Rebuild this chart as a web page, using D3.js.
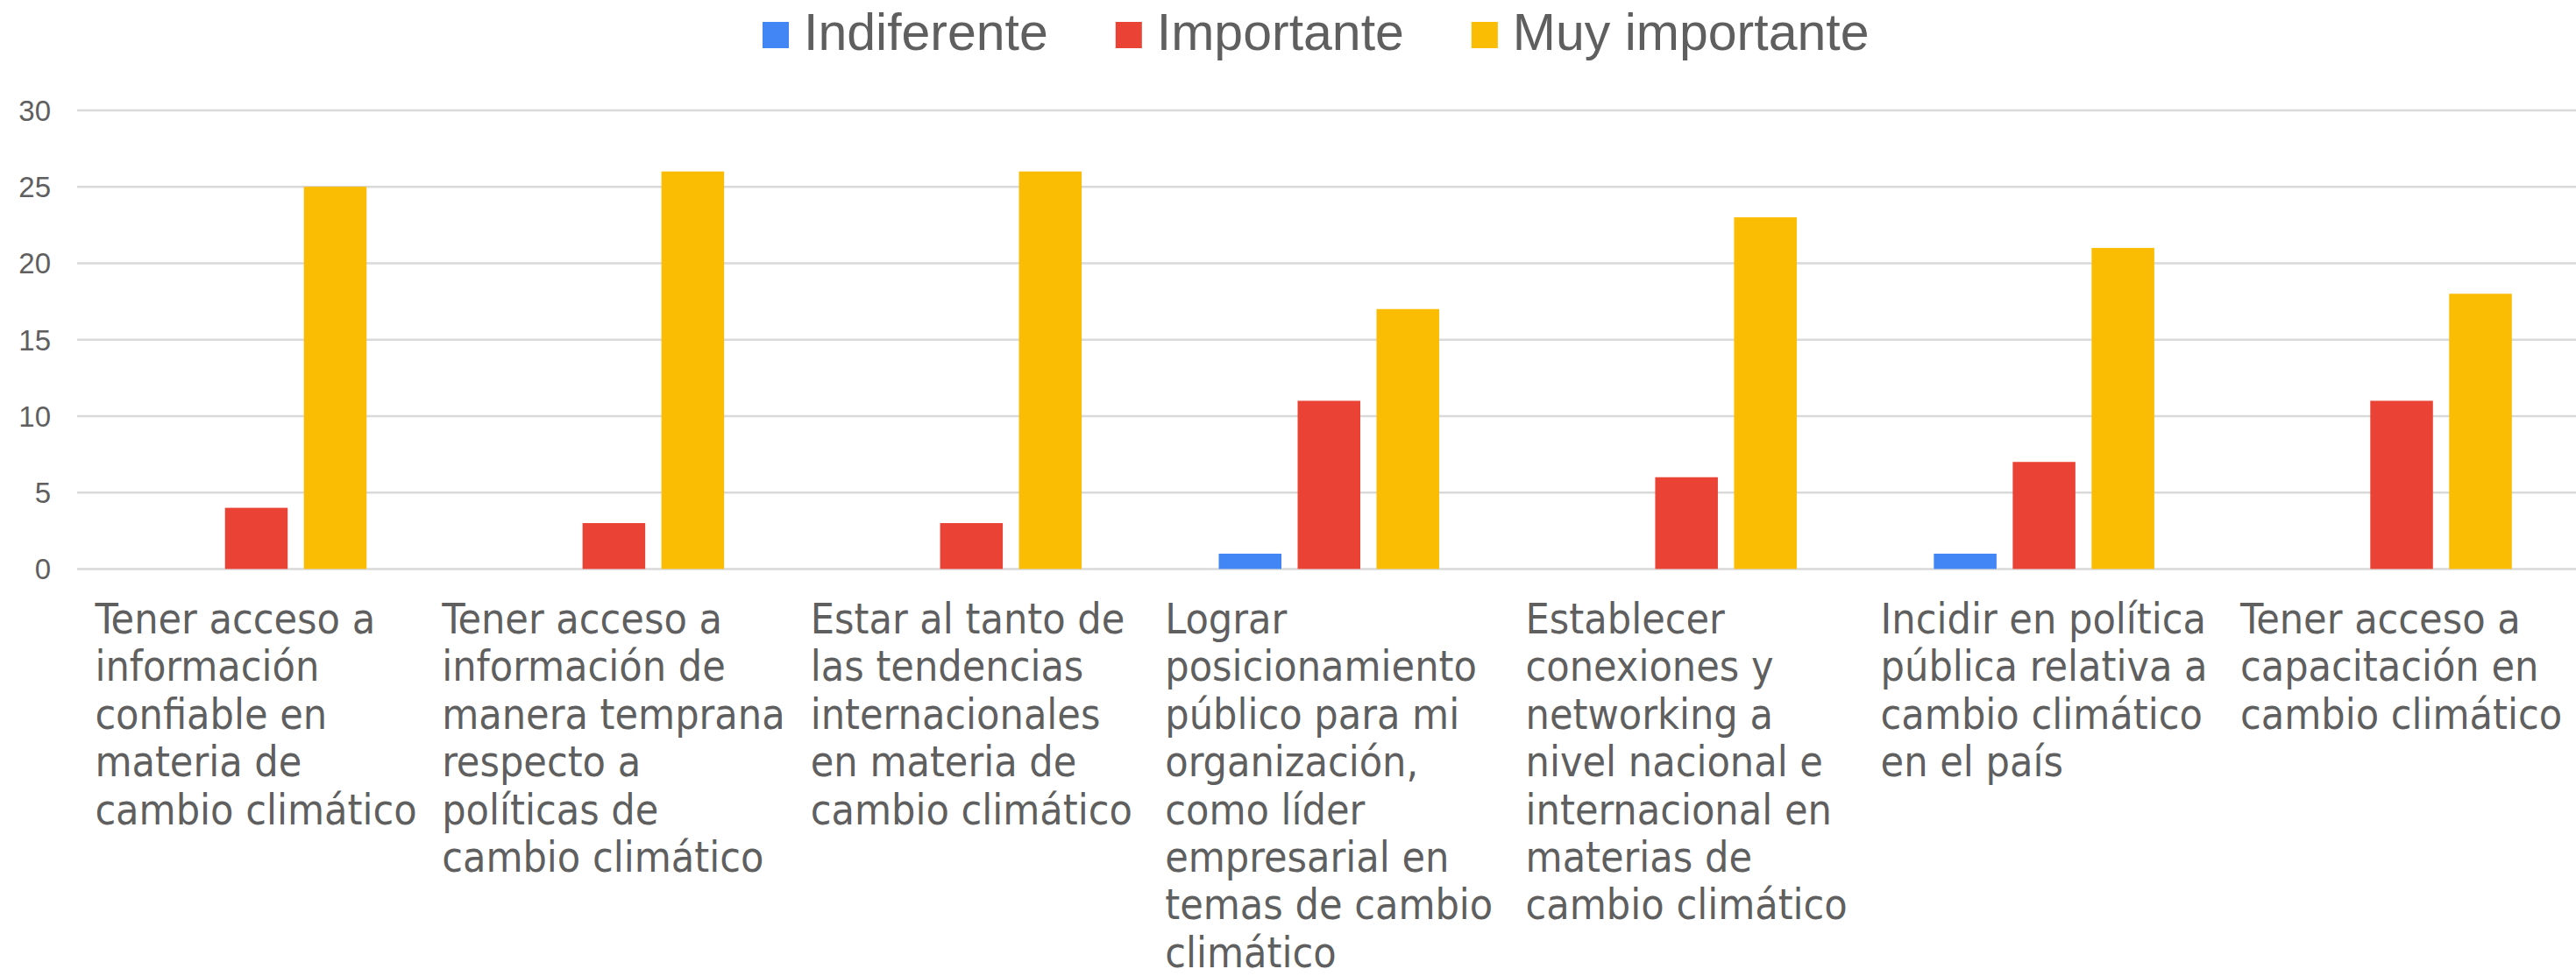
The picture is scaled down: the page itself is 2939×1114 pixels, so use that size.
<!DOCTYPE html>
<html>
<head>
<meta charset="utf-8">
<script src="https://cdn.jsdelivr.net/npm/d3@7"></script>
<style>
  body { margin: 0; background: #fff; }
  svg { display: block; }
</style>
</head>
<body>
<svg id="chart"></svg>
<script>
var categories = [
  ["Tener acceso a", "información", "confiable en", "materia de", "cambio climático"],
  ["Tener acceso a", "información de", "manera temprana", "respecto a", "políticas de", "cambio climático"],
  ["Estar al tanto de", "las tendencias", "internacionales", "en materia de", "cambio climático"],
  ["Lograr", "posicionamiento", "público para mi", "organización,", "como líder", "empresarial en", "temas de cambio", "climático"],
  ["Establecer", "conexiones y", "networking a", "nivel nacional e", "internacional en", "materias de", "cambio climático"],
  ["Incidir en política", "pública relativa a", "cambio climático", "en el país"],
  ["Tener acceso a", "capacitación en", "cambio climático"]
];
var seriesNames = ["Indiferente", "Importante", "Muy importante"];
var indiferente = [0, 0, 0, 1, 0, 1, 0];
var importante = [4, 3, 3, 11, 6, 7, 11];
var muyImportante = [25, 26, 26, 17, 23, 21, 18];
var yTicks = [0, 5, 10, 15, 20, 25, 30];
var colors = ["#4285f4", "#ea4335", "#fbbc04"];

var width = 2939, height = 1114;
var values = [indiferente, importante, muyImportante];

var svg = d3.select("#chart")
  .attr("width", width)
  .attr("height", height);

var idx = d3.range(categories.length);

var x0 = d3.scaleBand()
  .domain(idx)
  .range([88.5, 2944])
  .padding(0);

var groupW = 251.5;
var x1 = d3.scaleBand()
  .domain(seriesNames)
  .range([(x0.bandwidth() - groupW) / 2, (x0.bandwidth() + groupW) / 2])
  .paddingInner(0.2056)
  .paddingOuter(0);

var y = d3.scaleLinear()
  .domain([0, 30])
  .range([649.4, 125.9]);

// gridlines
svg.append("g").selectAll("line")
  .data(yTicks)
  .enter().append("line")
  .attr("x1", 88)
  .attr("x2", width)
  .attr("y1", function(d) { return y(d); })
  .attr("y2", function(d) { return y(d); })
  .style("stroke", "#d9d9d9")
  .style("stroke-width", "2.5px");

// y labels
svg.append("g").selectAll("text")
  .data(yTicks)
  .enter().append("text")
  .attr("x", 58)
  .attr("y", function(d) { return y(d); })
  .attr("dy", "0.36em")
  .attr("text-anchor", "end")
  .style("font-family", "'Liberation Sans', Arial, sans-serif")
  .style("font-size", "33px")
  .style("fill", "#5f5f5f")
  .text(function(d) { return d; });

// bars
var rows = [];
idx.forEach(function(i) {
  seriesNames.forEach(function(s, k) {
    rows.push({cat: i, name: s, k: k, value: values[k][i]});
  });
});

svg.append("g").selectAll("rect")
  .data(rows.filter(function(d) { return d.value > 0; }))
  .enter().append("rect")
  .attr("x", function(d) { return x0(d.cat) + x1(d.name); })
  .attr("y", function(d) { return y(d.value); })
  .attr("width", x1.bandwidth())
  .attr("height", function(d) { return y(0) - y(d.value); })
  .style("fill", function(d) { return colors[d.k]; });

// category labels: left aligned block centred on the category
var lab = svg.append("g").selectAll("g.lab")
  .data(idx)
  .enter().append("g")
  .attr("class", "lab");

lab.each(function(i) {
  var g = d3.select(this);
  var t = g.append("text")
    .style("font-family", "'DejaVu Sans Condensed', 'DejaVu Sans', sans-serif")
    .style("font-stretch", "condensed")
    .style("font-size", "48px")
    .style("fill", "#5f5f5f");
  categories[i].forEach(function(line, j) {
    t.append("tspan")
      .attr("x", 0)
      .attr("y", 723 + j * 54.4)
      .text(line);
  });
  var w = t.node().getBBox().width;
  var cx = x0(i) + x0.bandwidth() / 2;
  g.attr("transform", "translate(" + (cx - w / 2) + ",0)");
});

// legend
var legend = svg.append("g");
var lx = 870;
seriesNames.forEach(function(s, k) {
  legend.append("rect")
    .attr("x", lx)
    .attr("y", 25)
    .attr("width", 30)
    .attr("height", 30)
    .style("fill", colors[k]);
  var t = legend.append("text")
    .attr("x", lx + 47)
    .attr("y", 57)
    .style("font-family", "'Liberation Sans', Arial, sans-serif")
    .style("font-size", "59px")
    .style("fill", "#5f5f5f")
    .text(s);
  lx = lx + 47 + t.node().getComputedTextLength() + 77;
});
</script>
</body>
</html>
